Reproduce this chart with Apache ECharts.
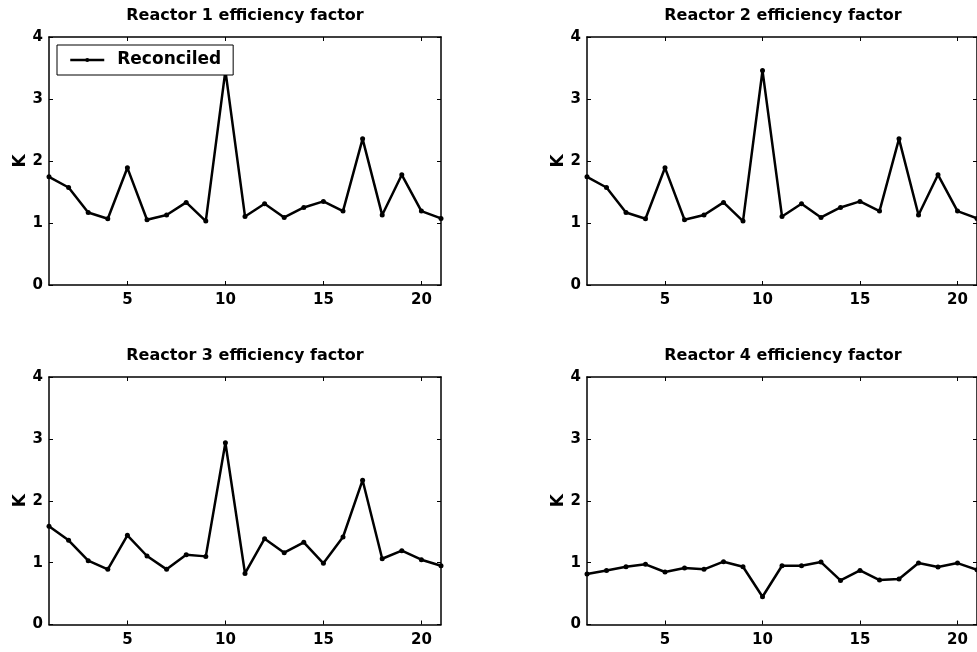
<!DOCTYPE html>
<html>
<head>
<meta charset="utf-8">
<script src="https://cdn.jsdelivr.net/npm/echarts@6/dist/echarts.min.js"></script>
<style>
  html, body { margin: 0; padding: 0; background: #fff; }
  #chart { width: 977px; height: 652px; }
</style>
</head>
<body>
<div id="chart"></div>
<script>
// Sample index 1..21
const samples = [1,2,3,4,5,6,7,8,9,10,11,12,13,14,15,16,17,18,19,20,21];

// Reconciled efficiency factor K per reactor
const reactor1 = [1.745,1.573,1.170,1.068,1.890,1.052,1.128,1.332,1.031,3.458,1.106,1.310,1.090,1.251,1.348,1.192,2.357,1.128,1.777,1.192,1.074];
const reactor2 = [1.745,1.573,1.170,1.068,1.890,1.052,1.128,1.332,1.031,3.458,1.106,1.310,1.090,1.251,1.348,1.192,2.357,1.128,1.777,1.192,1.074];
const reactor3 = [1.587,1.360,1.031,0.891,1.441,1.107,0.891,1.128,1.101,2.937,0.826,1.387,1.161,1.328,0.988,1.414,2.332,1.063,1.193,1.047,0.950];
const reactor4 = [0.815,0.874,0.934,0.972,0.848,0.912,0.891,1.015,0.934,0.448,0.950,0.950,1.009,0.713,0.874,0.718,0.734,0.993,0.928,0.993,0.885];

const panelTitles = ['Reactor 1 efficiency factor','Reactor 2 efficiency factor','Reactor 3 efficiency factor','Reactor 4 efficiency factor'];
const xTicks = [5, 10, 15, 20];
const yTicks = [0, 1, 2, 3, 4];
const seriesName = 'Reconciled';
const yName = 'K';

const panels = [reactor1, reactor2, reactor3, reactor4];

const FONT = 'DejaVu Sans';
const grids = [
  { left: 49,  top: 37,  width: 392, height: 248 },
  { left: 587, top: 37,  width: 392, height: 248 },
  { left: 49,  top: 377, width: 392, height: 247.5 },
  { left: 587, top: 377, width: 392, height: 247.5 }
];
const titleTops = [8, 8, 348, 348];

const frameLine = { show: true, onZero: false, lineStyle: { color: '#000', width: 1.5 } };
const innerTick = { show: true, inside: true, length: 4, lineStyle: { color: '#000', width: 1 } };

const xAxes = [], yAxes = [], series = [], titles = [];
grids.forEach((g, i) => {
  const base = { type: 'value', gridIndex: i, min: 1, max: 21, splitLine: { show: false } };
  xAxes.push(Object.assign({}, base, {
    position: 'bottom',
    axisLine: frameLine,
    axisTick: Object.assign({}, innerTick, { customValues: xTicks }),
    axisLabel: { customValues: xTicks, color: '#000', fontFamily: FONT, fontWeight: 'bold', fontSize: 15, margin: 8 }
  }));
  xAxes.push(Object.assign({}, base, {
    position: 'top',
    axisLine: frameLine,
    axisTick: Object.assign({}, innerTick, { customValues: xTicks }),
    axisLabel: { show: false }
  }));
  const ybase = { type: 'value', gridIndex: i, min: 0, max: 4, interval: 1, splitLine: { show: false } };
  yAxes.push(Object.assign({}, ybase, {
    position: 'left',
    name: yName,
    nameLocation: 'middle',
    nameGap: 20,
    nameMoveOverlap: false,
    nameTextStyle: { color: '#000', fontFamily: FONT, fontWeight: 'bold', fontSize: 17 },
    axisLine: frameLine,
    axisTick: innerTick,
    axisLabel: { customValues: yTicks, color: '#000', fontFamily: FONT, fontWeight: 'bold', fontSize: 15, margin: 6 }
  }));
  yAxes.push(Object.assign({}, ybase, {
    position: 'right',
    axisLine: frameLine,
    axisTick: innerTick,
    axisLabel: { show: false }
  }));
  series.push({
    name: seriesName,
    type: 'line',
    xAxisIndex: i * 2,
    yAxisIndex: i * 2,
    data: samples.map((s, k) => [s, panels[i][k]]),
    symbol: 'circle',
    symbolSize: 5,
    showSymbol: true,
    z: 2,
    lineStyle: { color: '#000', width: 2.5 },
    itemStyle: { color: '#000' },
    emphasis: { disabled: true },
    clip: true
  });
  titles.push({
    text: panelTitles[i],
    left: g.left + 392 / 2,
    top: titleTops[i],
    textAlign: 'center',
    padding: 0,
    textStyle: { color: '#000', fontFamily: FONT, fontWeight: 'bold', fontSize: 16 }
  });
});

const chart = echarts.init(document.getElementById('chart'), null, { renderer: 'canvas' });
chart.setOption({
  animation: false,
  backgroundColor: '#fff',
  title: titles,
  grid: grids,
  xAxis: xAxes,
  yAxis: yAxes,
  legend: {
    data: [seriesName],
    z: 10,
    left: 57,
    top: 45,
    orient: 'horizontal',
    backgroundColor: '#fff',
    borderColor: '#000',
    borderWidth: 1,
    borderRadius: 0,
    padding: [6.5, 12, 6.5, 12],
    itemWidth: 34,
    itemHeight: 5,
    lineStyle: { color: '#000', width: 2.5 },
    itemStyle: { color: '#000' },
    selectedMode: false,
    textStyle: { color: '#000', fontFamily: FONT, fontWeight: 'bold', fontSize: 17, padding: [0, 0, 0, 8] }
  },
  series: series
});
</script>
</body>
</html>
